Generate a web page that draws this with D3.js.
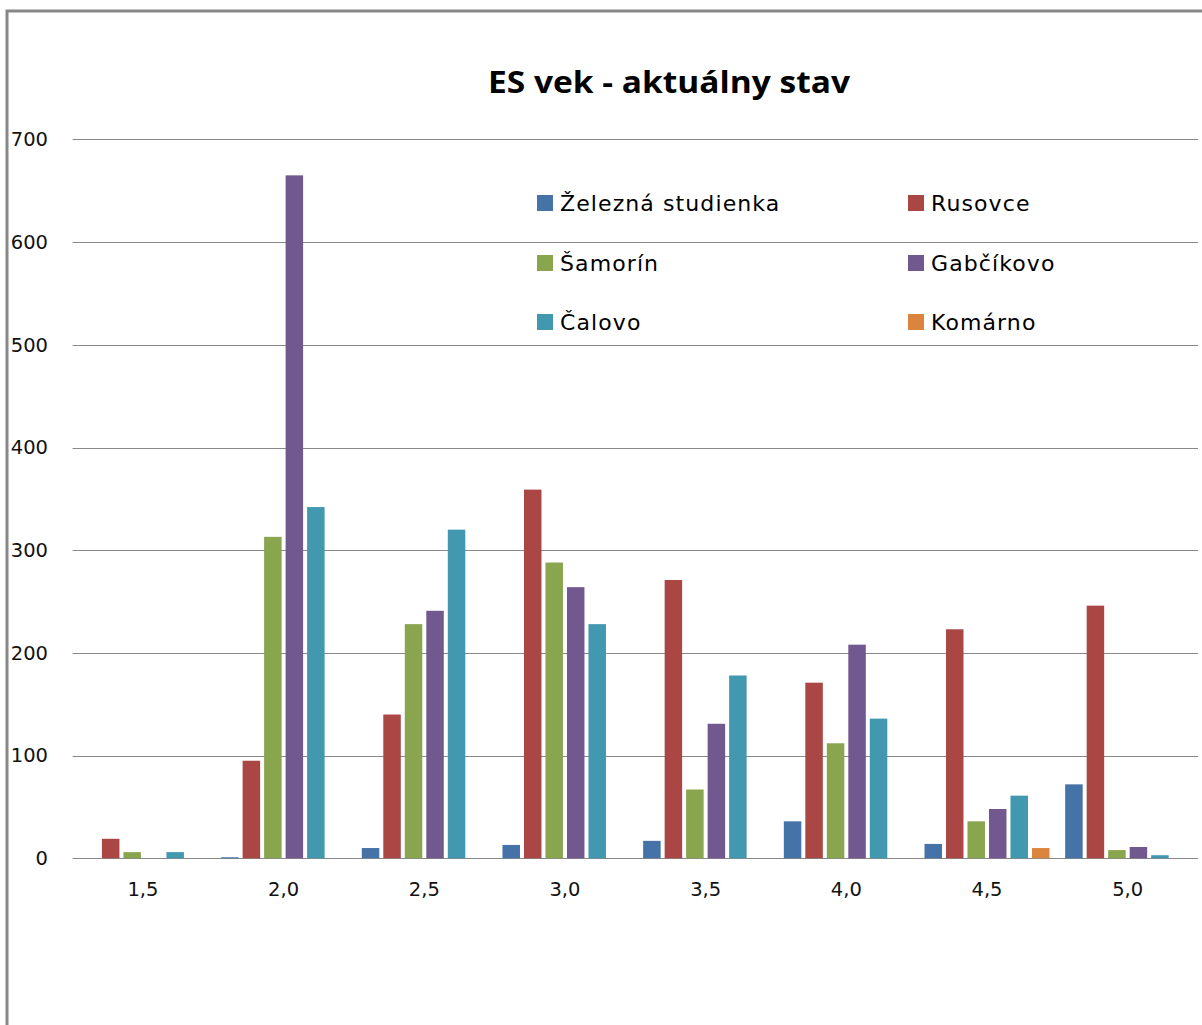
<!DOCTYPE html>
<html>
<head>
<meta charset="utf-8">
<script src="https://cdn.jsdelivr.net/npm/d3@7/dist/d3.min.js"></script>
<style>
  html, body { margin: 0; padding: 0; background: #fff; }
  svg { display: block; }
</style>
</head>
<body>
<svg id="chart" width="1202" height="1025"></svg>
<script>
// Bin labels on the x axis
const categories = ["1,5", "2,0", "2,5", "3,0", "3,5", "4,0", "4,5", "5,0"];

// Counts per locality for each bin
const zeleznaStudienka = [0, 1, 10, 13, 17, 36, 14, 72];
const rusovce          = [19, 95, 140, 359, 271, 171, 223, 246];
const samorin          = [6, 313, 228, 288, 67, 112, 36, 8];
const gabcikovo        = [0, 665, 241, 264, 131, 208, 48, 11];
const calovo           = [6, 342, 320, 228, 178, 136, 61, 3];
const komarno          = [0, 0, 0, 0, 0, 0, 10, 0];

const seriesNames  = ["Železná studienka", "Rusovce", "Šamorín", "Gabčíkovo", "Čalovo", "Komárno"];
const seriesValues = [zeleznaStudienka, rusovce, samorin, gabcikovo, calovo, komarno];
const seriesColors = ["#4572A7", "#AA4643", "#89A54E", "#71588F", "#4198AF", "#DB843D"];

const yTicks = [0, 100, 200, 300, 400, 500, 600, 700];
const title = "ES vek - aktuálny stav";

const svg = d3.select("#chart");

// Outer frame (left and top edges)
svg.append("path")
  .attr("d", "M7,1025 L7,11 L1202,11")
  .attr("fill", "none")
  .attr("stroke", "#888")
  .attr("stroke-width", 3);

const plot = { left: 72.6, right: 1198, top: 139.4, bottom: 858.3 };

const y = d3.scaleLinear().domain([0, 700]).range([plot.bottom, plot.top]);
const x0 = d3.scaleBand().domain(categories).range([plot.left, plot.right]).padding(0);
const x1 = d3.scaleBand().domain(seriesNames).range([0, x0.bandwidth()])
  .paddingInner(0.186).paddingOuter(0.365);

// Horizontal gridlines
svg.append("g")
  .selectAll("line")
  .data(yTicks)
  .join("line")
  .attr("x1", plot.left)
  .attr("x2", plot.right)
  .attr("y1", d => Math.round(y(d)) + 0.5)
  .attr("y2", d => Math.round(y(d)) + 0.5)
  .attr("stroke", "#888")
  .attr("stroke-width", 1);

// Y axis labels
const yAxis = d3.axisLeft(y).tickValues(yTicks).tickSize(0).tickPadding(0);
const yG = svg.append("g").attr("transform", "translate(48,0)").call(yAxis);
yG.select(".domain").remove();
yG.selectAll("text")
  .attr("font-family", "DejaVu Sans, Verdana, sans-serif")
  .attr("font-size", 19.5)
  .attr("fill", "#111");

// Bars
const rows = categories.map((c, i) => ({
  cat: c,
  vals: seriesNames.map((s, j) => ({ name: s, value: seriesValues[j][i], color: seriesColors[j] }))
}));

const groups = svg.append("g")
  .selectAll("g")
  .data(rows)
  .join("g")
  .attr("transform", d => `translate(${x0(d.cat)},0)`);

groups.selectAll("rect")
  .data(d => d.vals.filter(v => v.value > 0))
  .join("rect")
  .attr("x", d => x1(d.name))
  .attr("width", x1.bandwidth())
  .attr("y", d => y(d.value))
  .attr("height", d => y(0) - y(d.value))
  .attr("fill", d => d.color);

// X axis labels
const xAxis = d3.axisBottom(x0).tickSize(0).tickPadding(0);
const xG = svg.append("g").attr("transform", "translate(0,882)").call(xAxis);
xG.select(".domain").remove();
xG.selectAll("text")
  .attr("dy", "0.72em")
  .attr("font-family", "DejaVu Sans, Verdana, sans-serif")
  .attr("font-size", 19.5)
  .attr("fill", "#111");

// Title
svg.append("text")
  .attr("x", 669)
  .attr("y", 93)
  .attr("text-anchor", "middle")
  .attr("font-family", "Open Sans, sans-serif")
  .attr("font-weight", "bold")
  .attr("font-size", 30)
  .attr("fill", "#000")
  .attr("textLength", 362)
  .attr("lengthAdjust", "spacingAndGlyphs")
  .text(title);

// Legend: two columns, three rows
const legendCols = [537, 908];
const legendRows = [203, 263, 322];
const legend = svg.append("g")
  .selectAll("g")
  .data(seriesNames)
  .join("g")
  .attr("transform", (d, i) => `translate(${legendCols[i % 2]},${legendRows[Math.floor(i / 2)]})`);

legend.append("rect")
  .attr("x", 0)
  .attr("y", -8)
  .attr("width", 16)
  .attr("height", 16)
  .attr("fill", (d, i) => seriesColors[i]);

legend.append("text")
  .attr("x", 23)
  .attr("y", 0)
  .attr("dy", "0.36em")
  .attr("font-family", "DejaVu Sans, Verdana, sans-serif")
  .attr("font-size", 22)
  .attr("letter-spacing", 1.1)
  .attr("fill", "#000")
  .text(d => d);
</script>
</body>
</html>
